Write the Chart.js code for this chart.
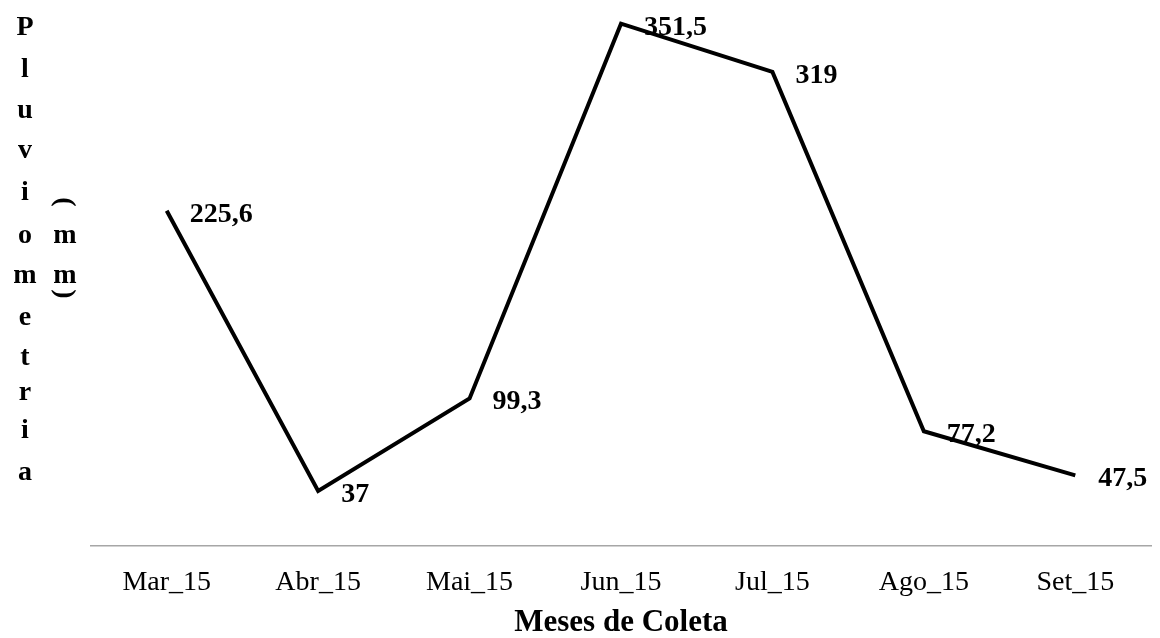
<!DOCTYPE html>
<html>
<head>
<meta charset="utf-8">
<script src="https://cdn.jsdelivr.net/npm/chart.js@4/dist/chart.umd.min.js"></script>
<style>
  html, body { margin: 0; padding: 0; background: #fff; }
  #wrap { width: 1160px; height: 638px; position: relative; }
</style>
</head>
<body>
<div id="wrap"><canvas id="c"></canvas></div>
<script>
// Monthly rainfall (mm) at the sampling site
const months = ['Mar_15', 'Abr_15', 'Mai_15', 'Jun_15', 'Jul_15', 'Ago_15', 'Set_15'];
const rainfall = [225.6, 37, 99.3, 351.5, 319, 77.2, 47.5];

// Axis titles
const xTitle = 'Meses de Coleta';
const yTitleWord = ['P', 'l', 'u', 'v', 'i', 'o', 'm', 'e', 't', 'r', 'i', 'a'];
const yTitleUnit = ['(', 'm', 'm', ')'];

const SERIF = "'Liberation Serif', 'Times New Roman', serif";

// Value labels formatted with a decimal comma, placed to the right of each point
const valueLabels = {
  id: 'valueLabels',
  afterDatasetsDraw(chart) {
    const ctx = chart.ctx;
    const meta = chart.getDatasetMeta(0);
    const values = chart.data.datasets[0].data;
    ctx.save();
    ctx.font = 'bold 28px ' + SERIF;
    ctx.fillStyle = '#000';
    ctx.textAlign = 'left';
    ctx.textBaseline = 'alphabetic';
    meta.data.forEach((pt, i) => {
      const txt = String(values[i]).replace('.', ',');
      ctx.fillText(txt, pt.x + 23, pt.y + 11);
    });
    ctx.restore();
  }
};

// Stacked vertical title for the value axis
const stackedYTitle = {
  id: 'stackedYTitle',
  afterDraw(chart) {
    const ctx = chart.ctx;
    ctx.save();
    ctx.font = 'bold 28px ' + SERIF;
    ctx.fillStyle = '#000';
    ctx.textAlign = 'center';
    ctx.textBaseline = 'alphabetic';
    const wordY = [35, 77, 118, 158, 200, 243, 283, 325, 365, 400, 438, 480];
    yTitleWord.forEach((ch, i) => {
      ctx.fillText(ch, 25, wordY[i]);
    });
    // unit column: rotated brackets around two stacked letters
    const unitY = [202, 243, 283, 294];
    yTitleUnit.forEach((ch, i) => {
      if (ch === '(' || ch === ')') {
        ctx.save();
        ctx.translate(64, unitY[i]);
        ctx.rotate(Math.PI / 2);
        ctx.textBaseline = 'middle';
        ctx.fillText(ch, 0, 0);
        ctx.restore();
      } else {
        ctx.fillText(ch, 65, unitY[i]);
      }
    });
    ctx.restore();
  }
};

new Chart(document.getElementById('c'), {
  type: 'line',
  data: {
    labels: months,
    datasets: [{
      data: rainfall,
      borderColor: '#000',
      borderWidth: 4,
      borderJoinStyle: 'miter',
      pointRadius: 0,
      pointHoverRadius: 0,
      tension: 0,
      fill: false,
      clip: false
    }]
  },
  options: {
    responsive: true,
    maintainAspectRatio: false,
    animation: false,
    events: [],
    layout: { padding: { left: 91, right: 9, top: 11, bottom: 0 } },
    plugins: {
      legend: { display: false },
      tooltip: { enabled: false },
      title: { display: false }
    },
    scales: {
      x: {
        offset: true,
        grid: { display: false, drawTicks: false },
        border: { display: true, color: '#A6A6A6', width: 1.5 },
        ticks: {
          color: '#000',
          padding: 20,
          font: { family: SERIF, size: 28 }
        },
        title: {
          display: true,
          text: xTitle,
          color: '#000',
          padding: { top: 0, bottom: 0 },
          font: { family: SERIF, size: 31, weight: 'bold', lineHeight: 0.95 }
        },
        afterFit(scale) { scale.height = 92; }
      },
      y: {
        display: false,
        min: 0,
        max: 360
      }
    }
  },
  plugins: [valueLabels, stackedYTitle]
});
</script>
</body>
</html>
